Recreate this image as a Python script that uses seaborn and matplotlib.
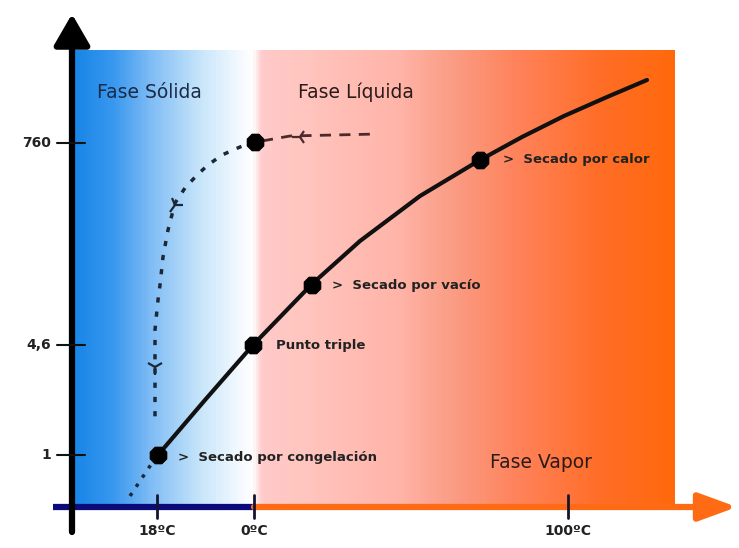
import numpy as np
import pandas as pd
import matplotlib
matplotlib.use("Agg")
import matplotlib.pyplot as plt
import seaborn as sns
from matplotlib.colors import LinearSegmentedColormap
from matplotlib.markers import MarkerStyle
from matplotlib.transforms import Affine2D

# schematic units: origin where the two axes cross
x_ticks = [85, 182, 496]
x_tick_labels = ["18ºC", "0ºC", "100ºC"]
y_ticks = [364, 162, 52]
y_tick_labels = ["760", "4,6", "1"]

# sublimation start (dotted) and phase boundary curve (solid)
dotted_x = [58, 68, 78, 86]
dotted_y = [11, 26, 41, 52]
curve_x = [86, 133, 181, 240, 288, 348, 408, 450, 492, 535, 575]
curve_y = [52, 107, 162, 223, 266, 311, 347, 370, 391, 410, 427]

# marked points
point_x = [86, 181, 240, 408, 183]
point_y = [52, 162, 222, 347, 365]

# process path: horizontal dashed part, then the curved dotted part
dash_x = [190, 218, 306]
dash_y = [366, 371, 373]
path_x = [183, 168, 150, 136, 125, 113, 103, 96, 91, 88, 86, 83, 83]
path_y = [365, 360, 352, 342, 332, 319, 304, 277, 250, 222, 207, 177, 87]

# background gradient stops (position along x, colour)
grad_pos = [3, 40, 78, 128, 168, 180, 190, 228, 328, 378, 448, 528, 603]
grad_col = ["#1a86e8", "#3898ee", "#80bcf5", "#c8e6fa", "#f5faff", "#ffffff",
            "#ffcaca", "#ffc6c0", "#ffb4a8", "#fa9e86", "#ff825a", "#ff6e28", "#ff690c"]

sns.set_style("white")
fig = plt.figure(figsize=(7.39, 5.48), dpi=100)
ax = fig.add_axes([0, 0, 1, 1])
ax.set_xlim(-72, 667)
ax.set_ylim(-41, 507)
ax.axis("off")

# background
lo, hi = grad_pos[0], grad_pos[-1]
stops = [((p - lo) / (hi - lo), c) for p, c in zip(grad_pos, grad_col)]
cmap = LinearSegmentedColormap.from_list("phase", stops)
ax.imshow(np.linspace(0, 1, 600)[None, :], cmap=cmap, aspect="auto",
          extent=[lo, hi, 0, 457], zorder=0)

# axes arrows
ax.plot([-19, 182], [0, 0], color="#0b0b7a", lw=4.5, solid_capstyle="butt", zorder=2)
ax.annotate("", xy=(665, 0), xytext=(182, 0),
            arrowprops=dict(arrowstyle="-|>,head_length=1.15,head_width=0.42",
                            color="#ff6a14", lw=4.5, shrinkA=0, shrinkB=0,
                            mutation_scale=20), zorder=2)
ax.annotate("", xy=(0, 493), xytext=(0, -25),
            arrowprops=dict(arrowstyle="-|>,head_length=0.95,head_width=0.55",
                            color="black", lw=4.5, shrinkA=0, shrinkB=0,
                            mutation_scale=20), zorder=3)

# tick marks and labels
for xt, lab in zip(x_ticks, x_tick_labels):
    ax.plot([xt, xt], [-11, 12], color="#141430", lw=2, zorder=3)
    ax.text(xt, -24, lab, ha="center", va="center", fontsize=10,
            fontweight="bold", color="#222222")
for yt, lab in zip(y_ticks, y_tick_labels):
    ax.plot([-15, 13], [yt, yt], color="#111111", lw=1.5, zorder=3)
    ax.text(-21, yt, lab, ha="right", va="center", fontsize=10,
            fontweight="bold", color="#222222")

# curves
line_col = "#111111"
sns.lineplot(x=dotted_x, y=dotted_y, sort=False, estimator=None, color="#1c2838",
             lw=2.5, linestyle=(0, (1, 2.2)), ax=ax, zorder=4)
sns.lineplot(x=curve_x, y=curve_y, sort=False, estimator=None, color=line_col,
             lw=3, ax=ax, zorder=4)
sns.lineplot(x=dash_x, y=dash_y, sort=False, estimator=None, color="#4a2a2a",
             lw=2, linestyle=(0, (4, 3)), ax=ax, zorder=4)
sns.lineplot(x=path_x, y=path_y, sort=False, estimator=None, color="#1c2838",
             lw=2.5, linestyle=(0, (1.5, 2.6)), ax=ax, zorder=4)
sns.scatterplot(x=point_x, y=point_y, marker="8", s=160, color="black",
                edgecolor="black", ax=ax, zorder=5)

# direction arrows on the path
ax.plot(228, 370, marker="3", ms=11, mew=1.6, color="#4a2a2a", zorder=5)
ax.plot(103, 302, marker=MarkerStyle("1", transform=Affine2D().rotate_deg(-35)),
        ms=12, mew=1.6, color="#1c2838", zorder=5)
ax.plot(83, 140, marker="1", ms=12, mew=1.6, color="#1c2838", zorder=5)

# phase names
ax.text(25, 415, "Fase Sólida", fontsize=13.5, color="#1a2a48", va="center")
ax.text(226, 415, "Fase Líquida", fontsize=13.5, color="#2a1a1a", va="center")
ax.text(418, 44, "Fase Vapor", fontsize=13.5, color="#2a1a1a", va="center")

# point notes
ax.text(431, 347, ">  Secado por calor", fontsize=9.5, fontweight="bold",
        color="#222222", va="center")
ax.text(260, 222, ">  Secado por vacío", fontsize=9.5, fontweight="bold",
        color="#222222", va="center")
ax.text(204, 161, "Punto triple", fontsize=9.5, fontweight="bold",
        color="#222222", va="center")
ax.text(106, 49, ">  Secado por congelación", fontsize=9.5, fontweight="bold",
        color="#222222", va="center")

fig.savefig("out.png", dpi=100)
